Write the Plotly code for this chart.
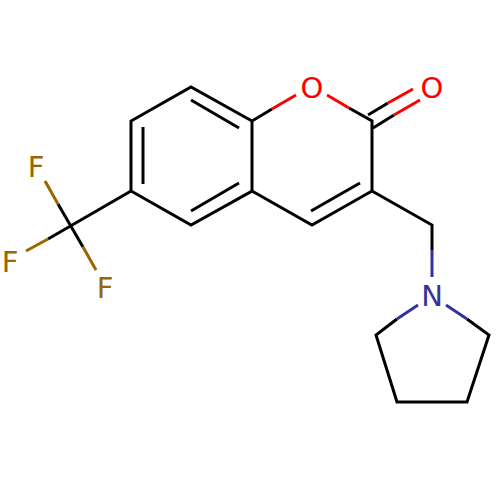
import plotly.graph_objects as go

# atom labels, pixel positions
label_text = ["O", "O", "N", "F", "F", "F"]
label_x = [312, 432, 432, 36, 10, 105]
label_y = [91, 91, 299, 170, 265, 291]
label_color = ["#ff0000", "#ff0000", "#333399", "#996600", "#996600", "#996600"]

# bonds as polylines, split up by colour
black_paths = [
    [(252, 121), (191, 87), (131, 121), (131, 191), (191, 225), (252, 191), (252, 121), (272, 109)],
    [(252, 191), (312, 225), (372, 191), (372, 121), (349, 108)],
    [(143, 127), (143, 184)],
    [(191, 100), (239, 128)],
    [(191, 211), (239, 183)],
    [(311, 211), (360, 183)],
    [(368, 115), (388, 103)],
    [(373, 128), (394, 115)],
    [(372, 191), (432, 225), (432, 250)],
    [(131, 191), (71, 226), (48, 239)],
    [(58, 204), (71, 226), (83, 247)],
    [(397, 319), (376, 335), (397, 402), (467, 402), (489, 335), (467, 319)],
]
red_paths = [
    [(272, 109), (296, 95)],
    [(327, 95), (349, 108)],
    [(388, 103), (413, 89)],
    [(394, 115), (420, 100)],
]
blue_paths = [
    [(432, 250), (432, 277)],
    [(418, 305), (397, 319)],
    [(446, 305), (467, 319)],
]
brown_paths = [
    [(45, 181), (58, 204)],
    [(26, 251), (48, 239)],
    [(96, 270), (83, 247)],
]


def flatten(paths):
    xs, ys = [], []
    for path in paths:
        xs += [p[0] for p in path] + [None]
        ys += [p[1] for p in path] + [None]
    return xs, ys


fig = go.Figure()
for paths, color in [(black_paths, "#000000"), (red_paths, "#ff0000"),
                     (blue_paths, "#333399"), (brown_paths, "#996600")]:
    xs, ys = flatten(paths)
    fig.add_trace(go.Scatter(x=xs, y=ys, mode="lines", line=dict(color=color, width=3),
                             hoverinfo="skip", showlegend=False))

fig.add_trace(go.Scatter(
    x=label_x, y=label_y, mode="text", text=label_text,
    textposition="middle center",
    textfont=dict(family="DejaVu Sans", size=29, color=label_color),
    hoverinfo="skip", showlegend=False
))

fig.update_layout(
    width=500, height=500,
    margin=dict(l=0, r=0, t=0, b=0),
    paper_bgcolor="#ffffff", plot_bgcolor="#ffffff"
)
fig.update_xaxes(range=[0, 500], visible=False)
fig.update_yaxes(range=[500, 0], visible=False)
# page has a default 8px body margin, would push the drawing off
fig.write_html("out.html", config=dict(displayModeBar=False),
               post_script="document.body.style.margin = '0';")
